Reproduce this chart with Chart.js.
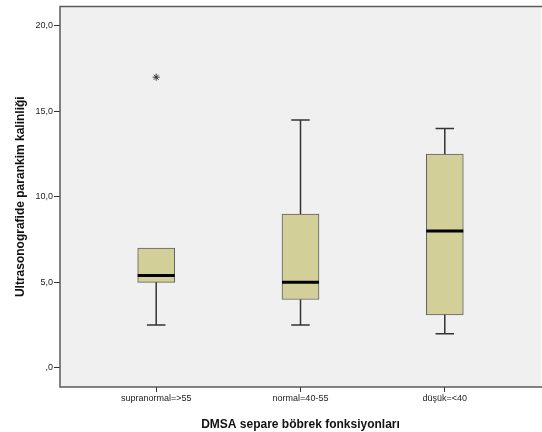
<!DOCTYPE html>
<html>
<head>
<meta charset="utf-8">
<script src="https://cdn.jsdelivr.net/npm/chart.js@4.4.0/dist/chart.umd.min.js"></script>
<style>
    html, body { margin: 0; padding: 0; background: #fff; overflow: hidden; }
    .chart-wrap { width: 546px; height: 432px; }
</style>
</head>
<body>
<div class="chart-wrap"><canvas id="boxChart"></canvas></div>
<script>
// ---------- Data ----------
const categories = ['supranormal=>55', 'normal=40-55', 'düşük=<40'];
const whiskerLow = [2.5, 2.5, 2.0];
const q1 = [5.0, 4.0, 3.1];
const median = [5.4, 5.0, 8.0];
const q3 = [7.0, 9.0, 12.5];
const whiskerHigh = [7.0, 14.5, 14.0];
const outlierCat = [1];
const outlierVal = [17.0];
const yTicks = [0, 5, 10, 15, 20];
const yTickLabels = [',0', '5,0', '10,0', '15,0', '20,0'];

const fontFamily = '"Liberation Sans", Arial, sans-serif';

// plot background + frame (right edge falls outside the picture)
const plotFrame = {
    id: 'plotFrame',
    beforeDraw(chart) {
        const { ctx, chartArea: a } = chart;
        ctx.save();
        ctx.fillStyle = '#F0F0F0';
        ctx.fillRect(a.left, a.top, a.right - a.left, a.bottom - a.top);
        ctx.restore();
    },
    afterDraw(chart) {
        const { ctx, chartArea: a } = chart;
        ctx.save();
        ctx.strokeStyle = '#5a5a5a';
        ctx.lineWidth = 1.5;
        ctx.beginPath();
        ctx.moveTo(a.right + 5, a.top);
        ctx.lineTo(a.left, a.top);
        ctx.lineTo(a.left, a.bottom);
        ctx.lineTo(a.right + 5, a.bottom);
        ctx.stroke();
        ctx.restore();
    }
};

// whiskers, caps and medians drawn through the scales
const whiskers = {
    id: 'whiskers',
    afterDatasetsDraw(chart) {
        const { ctx, scales: { x, y } } = chart;
        const bars = chart.getDatasetMeta(0).data;
        ctx.save();
        categories.forEach((c, i) => {
            const cx = x.getPixelForValue(i + 1);
            const half = bars[i].width / 2;
            const cap = half / 2;
            ctx.strokeStyle = '#333';
            ctx.lineWidth = 1.5;
            ctx.beginPath();
            if (whiskerHigh[i] > q3[i]) {
                ctx.moveTo(cx, y.getPixelForValue(q3[i]));
                ctx.lineTo(cx, y.getPixelForValue(whiskerHigh[i]));
                ctx.moveTo(cx - cap, y.getPixelForValue(whiskerHigh[i]));
                ctx.lineTo(cx + cap, y.getPixelForValue(whiskerHigh[i]));
            }
            if (whiskerLow[i] < q1[i]) {
                ctx.moveTo(cx, y.getPixelForValue(q1[i]));
                ctx.lineTo(cx, y.getPixelForValue(whiskerLow[i]));
                ctx.moveTo(cx - cap, y.getPixelForValue(whiskerLow[i]));
                ctx.lineTo(cx + cap, y.getPixelForValue(whiskerLow[i]));
            }
            ctx.stroke();
            // median
            ctx.strokeStyle = '#000';
            ctx.lineWidth = 3;
            ctx.beginPath();
            ctx.moveTo(cx - half, y.getPixelForValue(median[i]));
            ctx.lineTo(cx + half, y.getPixelForValue(median[i]));
            ctx.stroke();
        });
        ctx.restore();
    }
};

const ctx = document.getElementById('boxChart').getContext('2d');
new Chart(ctx, {
    type: 'bar',
    data: {
        datasets: [{
            type: 'bar',
            data: categories.map((c, i) => ({ x: i + 1, y: [q1[i], q3[i]] })),
            backgroundColor: '#D3CF98',
            borderColor: '#5f5f5f',
            borderWidth: 1,
            borderSkipped: false,
            barThickness: 37
        }, {
            type: 'scatter',
            data: outlierCat.map((c, i) => ({ x: c, y: outlierVal[i] })),
            pointStyle: 'star',
            radius: 3.5,
            borderWidth: 1,
            borderColor: '#333',
            backgroundColor: '#333'
        }]
    },
    options: {
        responsive: true,
        maintainAspectRatio: false,
        animation: false,
        layout: { padding: { top: 4, right: 3, left: 0, bottom: 0 } },
        plugins: {
            legend: { display: false },
            tooltip: { enabled: false }
        },
        scales: {
            x: {
                type: 'linear',
                offset: false,
                min: 1 / 3,
                max: 11 / 3,
                afterBuildTicks: (scale) => { scale.ticks = categories.map((c, i) => ({ value: i + 1 })); },
                afterFit: (scale) => { scale.height = 45; },
                border: { display: false },
                grid: { display: true, offset: false, drawOnChartArea: false, drawTicks: true, tickLength: 5, tickColor: '#333', tickWidth: 1 },
                ticks: {
                    padding: 1,
                    maxRotation: 0,
                    autoSkip: false,
                    color: '#222',
                    font: { family: fontFamily, size: 9 },
                    callback: (val) => categories[Math.round(val) - 1]
                },
                title: {
                    display: true,
                    text: 'DMSA separe böbrek fonksiyonları',
                    color: '#111',
                    font: { family: fontFamily, size: 12, weight: 'bold' },
                    padding: { top: 7, bottom: 0 }
                }
            },
            y: {
                min: -1.12,
                max: 21.14,
                afterBuildTicks: (scale) => { scale.ticks = yTicks.map(v => ({ value: v })); },
                afterFit: (scale) => { scale.width = 60; },
                border: { display: false },
                grid: { display: true, drawOnChartArea: false, drawTicks: true, tickLength: 6, tickColor: '#333', tickWidth: 1 },
                ticks: {
                    padding: 1,
                    color: '#222',
                    font: { family: fontFamily, size: 9 },
                    callback: (val) => yTickLabels[yTicks.indexOf(val)]
                },
                title: {
                    display: true,
                    text: 'Ultrasonografide parankim kalinliği',
                    color: '#111',
                    font: { family: fontFamily, size: 12, weight: 'bold' },
                    padding: { top: 13, bottom: 0 }
                }
            }
        }
    },
    plugins: [plotFrame, whiskers]
});
</script>
</body>
</html>
